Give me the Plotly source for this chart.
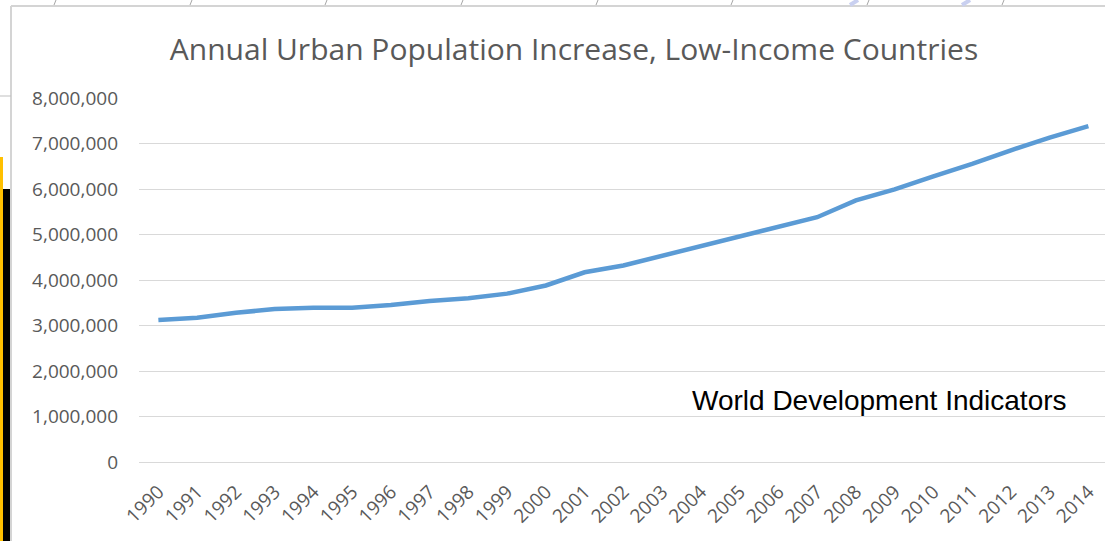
import plotly.graph_objects as go

# Annual urban population increase, low-income countries (World Development Indicators)
years = [str(y) for y in range(1990, 2015)]
urban_increase = [
    3120000, 3170000, 3280000, 3360000, 3390000, 3390000, 3450000, 3540000,
    3600000, 3700000, 3880000, 4170000, 4320000, 4530000, 4740000, 4970000,
    5180000, 5380000, 5750000, 5990000, 6280000, 6550000, 6850000, 7130000,
    7380000,
]
y_ticks = [0, 1000000, 2000000, 3000000, 4000000, 5000000, 6000000, 7000000, 8000000]

W, H = 1105, 541
ML, MR, MT, MB = 139, 0, 98, 79
PW, PH = W - ML - MR, H - MT - MB


def px(x):
    return (x - ML) / PW


def py(y):
    return (H - MB - y) / PH


fig = go.Figure()
fig.add_trace(go.Scatter(
    x=years, y=urban_increase, mode="lines",
    line=dict(color="#5B9BD5", width=4.5),
    hoverinfo="x+y", showlegend=False,
))

gray_txt = "#595959"
fig.update_layout(
    width=W, height=H,
    margin=dict(l=ML, r=MR, t=MT, b=MB),
    paper_bgcolor="white", plot_bgcolor="white",
    title=dict(
        text="Annual Urban Population Increase, Low-Income Countries",
        font=dict(family="Open Sans", size=30, color=gray_txt),
        xref="container", yref="container",
        x=574 / W, xanchor="center", y=1 - 49 / H, yanchor="middle",
    ),
    xaxis=dict(
        type="category", range=[-0.5, -0.5 + PW / 38.75],
        showgrid=False, zeroline=False, showline=False,
        tickangle=-45, ticks="", ticklabelstandoff=14,
        tickfont=dict(family="Open Sans", size=19, color=gray_txt),
    ),
    yaxis=dict(
        range=[0, 8000000], tickvals=y_ticks, tickformat=",",
        showgrid=True, gridcolor="#D9D9D9", gridwidth=1,
        zeroline=True, zerolinecolor="#D9D9D9", zerolinewidth=1,
        showline=False, ticks="", ticklabelstandoff=20,
        tickfont=dict(family="Open Sans", size=19, color=gray_txt),
    ),
)

fig.add_annotation(
    text="World Development Indicators",
    xref="paper", yref="paper", x=px(879), y=py(400),
    xanchor="center", yanchor="middle", showarrow=False,
    font=dict(family="Liberation Sans, Arial", size=28, color="black"),
)

# Surrounding worksheet: chart border, cell borders and side bars
P = dict(xref="paper", yref="paper")
shapes = [
    dict(type="line", x0=px(11), x1=px(11), y0=py(6), y1=py(H), line=dict(color="#D4D4D4", width=2), **P),
    dict(type="line", x0=px(11), x1=px(W), y0=py(6), y1=py(6), line=dict(color="#D4D4D4", width=2), **P),
    dict(type="line", x0=px(0), x1=px(11), y0=py(96), y1=py(96), line=dict(color="#BFBFBF", width=1), **P),
    dict(type="rect", x0=px(0), x1=px(3), y0=py(157), y1=py(H), fillcolor="#FFC000", line=dict(width=0), **P),
    dict(type="rect", x0=px(3), x1=px(10), y0=py(189), y1=py(H), fillcolor="black", line=dict(width=0), **P),
]
for cx in [54, 190, 325, 461, 596, 731, 867, 1002]:
    shapes.append(dict(type="line", x0=px(cx + 2), x1=px(cx), y0=py(0), y1=py(5),
                       line=dict(color="#A6A6A6", width=1), **P))
for cx in [850, 962]:
    shapes.append(dict(type="line", x0=px(cx + 8), x1=px(cx), y0=py(0), y1=py(5),
                       line=dict(color="#C9D0F0", width=4), **P))
fig.update_layout(shapes=shapes)

fig.write_html("out.html")
